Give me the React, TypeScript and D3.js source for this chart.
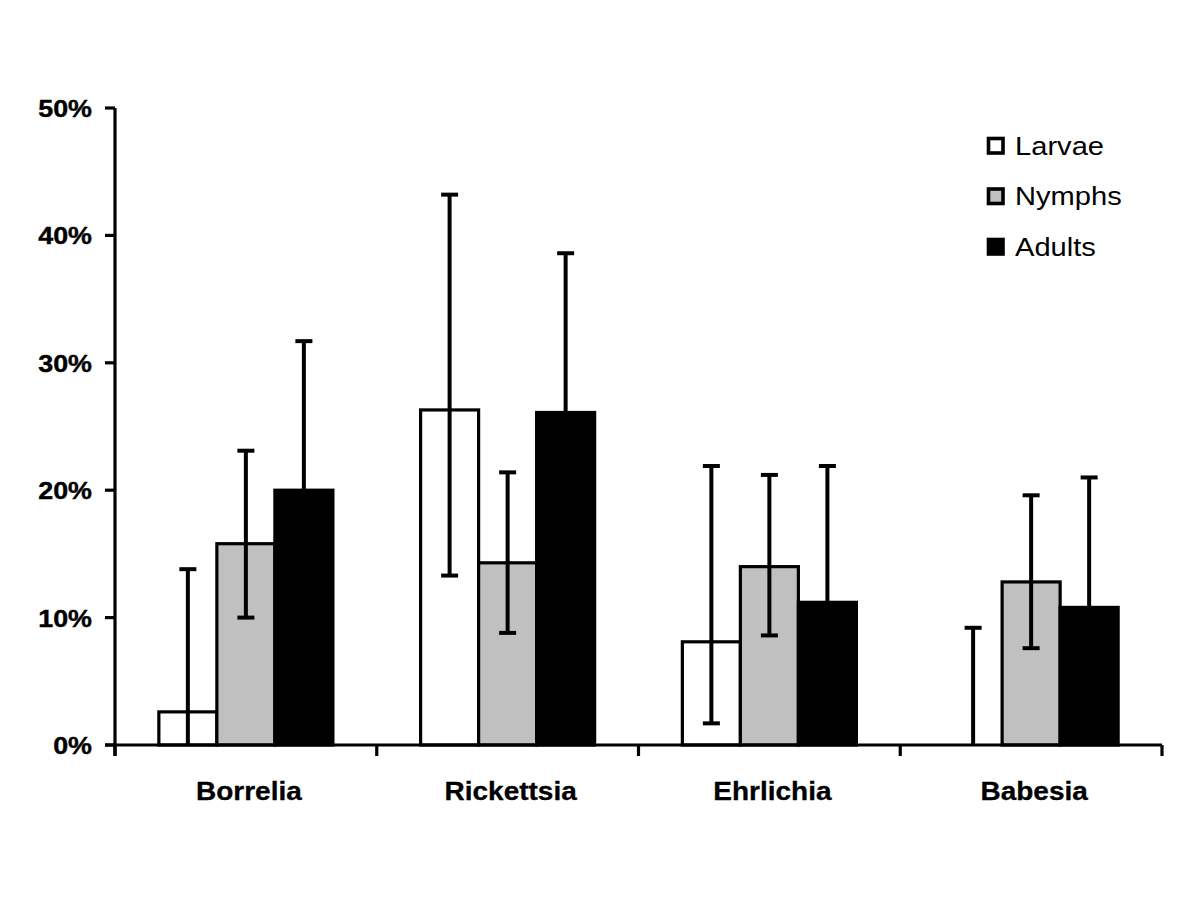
import React from "react";
import * as d3 from "d3";

const categories = ["Borrelia", "Rickettsia", "Ehrlichia", "Babesia"];
const seriesNames = ["Larvae", "Nymphs", "Adults"];
const seriesFill = ["#ffffff", "#c0c0c0", "#000000"];

// values in %
const larvae = [2.6, 26.3, 8.1, 0];
const nymphs = [15.8, 14.3, 14.0, 12.8];
const adults = [20.0, 26.1, 11.2, 10.8];

const larvaeUpper = [13.8, 43.2, 21.9, 9.2];
const larvaeLower = [0, 13.3, 1.7, 0];
const nymphsUpper = [23.1, 21.4, 21.2, 19.6];
const nymphsLower = [10.0, 8.8, 8.6, 7.6];
const adultsUpper = [31.7, 38.6, 21.9, 21.0];
const adultsLower: (number | null)[] = [null, null, null, null];

const yTicks = [0, 10, 20, 30, 40, 50];

const W = 1200;
const H = 900;
const FONT = "'Liberation Sans', Arial, Helvetica, sans-serif";
const SX = 1.12;

export default function App() {
  const x0 = 115;
  const x1 = 1162;
  const yBase = 745;
  const yTop = 108;

  const y = d3.scaleLinear().domain([0, 50]).range([yBase, yTop]);
  const xCat = d3.scaleBand<string>().domain(categories).range([x0, x1]).padding(0);
  const xSer = d3
    .scaleBand<string>()
    .domain(seriesNames)
    .range([0, xCat.bandwidth()])
    .paddingInner(0)
    .paddingOuter(0.756);

  const values = [larvae, nymphs, adults];
  const uppers = [larvaeUpper, nymphsUpper, adultsUpper];
  const lowers = [larvaeLower, nymphsLower, adultsLower];

  const capHalf = 8.5;
  const boundaries = [...categories.map((c) => xCat(c)!), x1];

  return (
    <svg
      width={W}
      height={H}
      style={{ position: "absolute", left: 0, top: 0, background: "#fff" }}
    >
      <rect x={0} y={0} width={W} height={H} fill="#fff" />
      {/* bars */}
      {categories.map((c, ci) =>
        seriesNames.map((s, si) => {
          const v = values[si][ci];
          if (v <= 0) return null;
          const bx = xCat(c)! + xSer(s)!;
          const bw = xSer.bandwidth();
          return (
            <rect
              key={`b-${c}-${s}`}
              x={bx}
              y={y(v)}
              width={bw}
              height={yBase - y(v)}
              fill={seriesFill[si]}
              stroke="#000"
              strokeWidth={3.2}
            />
          );
        })
      )}
      {/* error bars */}
      {categories.map((c, ci) =>
        seriesNames.map((s, si) => {
          const cx = xCat(c)! + xSer(s)! + xSer.bandwidth() / 2;
          const up = uppers[si][ci];
          const lo = lowers[si][ci];
          const v = values[si][ci];
          const topY = y(up);
          const botY = lo === null ? y(v) : y(lo);
          return (
            <g key={`e-${c}-${s}`} stroke="#000" strokeWidth={4}>
              <line x1={cx} x2={cx} y1={topY} y2={botY} />
              <line x1={cx - capHalf} x2={cx + capHalf} y1={topY} y2={topY} />
              {lo !== null && lo > 0 && (
                <line x1={cx - capHalf} x2={cx + capHalf} y1={botY} y2={botY} />
              )}
            </g>
          );
        })
      )}
      {/* axes */}
      <g stroke="#000" strokeWidth={3.2}>
        <line x1={x0} x2={x0} y1={yTop} y2={yBase + 11} />
        <line x1={x0 - 10} x2={x1} y1={yBase} y2={yBase} />
        {yTicks.map((t) => (
          <line key={`yt-${t}`} x1={x0 - 10} x2={x0} y1={y(t)} y2={y(t)} />
        ))}
        {boundaries.map((b, i) => (
          <line key={`xt-${i}`} x1={b} x2={b} y1={yBase} y2={yBase + 11} />
        ))}
      </g>
      {/* y tick labels */}
      {yTicks.map((t) => (
        <text
          key={`yl-${t}`}
          transform={`translate(92, ${y(t) + 9}) scale(${SX},1)`}
          textAnchor="end"
          fontFamily={FONT}
          fontWeight="bold"
          fontSize={24}
          fill="#000"
          stroke="#000"
          strokeWidth={0.4}
        >
          {`${t}%`}
        </text>
      ))}
      {/* category labels */}
      {categories.map((c) => (
        <text
          key={`cl-${c}`}
          transform={`translate(${xCat(c)! + xCat.bandwidth() / 2 + 3}, 800) scale(${SX},1)`}
          textAnchor="middle"
          fontFamily={FONT}
          fontWeight="bold"
          fontSize={25}
          fill="#000"
          stroke="#000"
          strokeWidth={0.3}
        >
          {c}
        </text>
      ))}
      {/* legend */}
      {seriesNames.map((s, si) => {
        const cy = 145.5 + si * 50.5;
        return (
          <g key={`lg-${s}`}>
            <rect
              x={988.5}
              y={cy - 7}
              width={14.5}
              height={14.5}
              fill={seriesFill[si]}
              stroke="#000"
              strokeWidth={3.6}
            />
            <text
              transform={`translate(1015, ${cy + 9}) scale(${SX},1)`}
              fontFamily={FONT}
              fontSize={26}
              fill="#000"
            >
              {s}
            </text>
          </g>
        );
      })}
    </svg>
  );
}
